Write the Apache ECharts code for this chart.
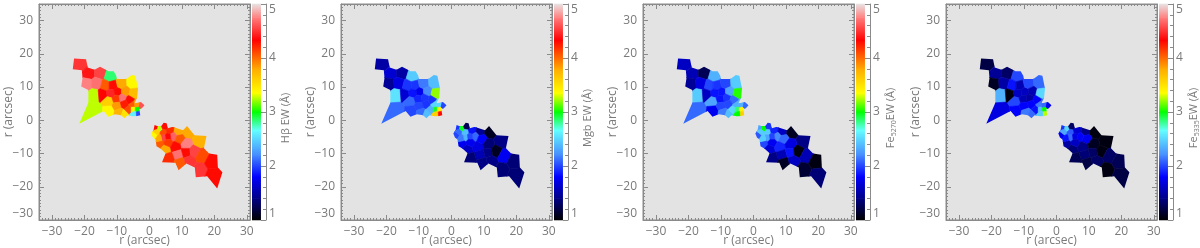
<!DOCTYPE html>
<html>
<head>
<meta charset="utf-8">
<style>
html,body{margin:0;padding:0;background:#fff}
#chart{width:1200px;height:248px;filter:blur(0.6px)}
</style>
<script src="https://cdn.jsdelivr.net/npm/echarts@6/dist/echarts.min.js"></script>
</head>
<body>
<div id="chart"></div>
<script>
// Voronoi bin centres on the sky, in arcsec (shared by all four maps)
const upperSites = [
[-21.2,16.9],[-18.6,14.1],[-15.2,14.2],[-19.2,11.0],[-16.2,11.1],[-12.0,13.2],[-16.9,7.6],[-16.6,3.2],
[-13.5,10.4],[-11.3,10.4],[-14.4,7.8],[-11.8,8.1],[-9.7,8.5],[-8.6,11.0],[-5.3,11.2],[-7.5,8.5],
[-4.9,7.9],[-12.5,5.7],[-12.3,2.9],[-10.1,6.5],[-8.3,6.8],[-6.0,6.0],[-9.9,4.3],[-7.6,4.9],
[-9.3,2.4],[-7.7,1.8],[-6.2,3.3],[-5.1,4.6],[-5.0,3.3],[-3.7,3.3],[-4.6,1.9],[-3.4,2.0],[-2.5,4.5],[-4.0,4.8]
];
const lowerSites = [
[1.9,-2.2],[3.2,-2.5],[4.6,-1.9],[1.5,-4.5],[2.3,-3.4],[4.3,-3.6],[4.4,-5.2],[3.3,-7.0],
[3.0,-5.5],[4.9,-8.6],[6.4,-3.1],[8.8,-3.4],[11.8,-3.6],[15.2,-6.3],[7.3,-4.8],[5.7,-5.0],
[9.2,-5.6],[5.7,-6.6],[8.2,-8.0],[11.4,-7.3],[8.9,-10.3],[5.8,-11.4],[9.6,-12.7],[11.4,-9.6],
[13.7,-9.4],[12.3,-12.2],[16.2,-10.8],[15.5,-14.8],[19.2,-12.4],[19.7,-16.6]
];
// outlines of the two lobes, in arcsec
const upperOutline = [[-23.2,18.6],[-19.5,18.4],[-19,15.9],[-16.9,15.2],[-15.2,16.1],[-13.4,15.2],[-12.6,14.8],[-11,14.8],[-10.2,13.4],[-10,12.4],[-7.1,12.4],[-5.4,13.6],[-4.3,13.4],[-3.5,9.5],[-3.8,6.8],[-4.6,5.1],[-3.6,5.3],[-2.6,5.5],[-1.5,4.5],[-2.3,3.6],[-3.1,3.3],[-2.8,1.5],[-3.8,1.3],[-5.1,1.2],[-6.7,1.5],[-7.7,0.6],[-8.7,1.5],[-10.7,1.8],[-12.6,1.1],[-14.1,2.8],[-21.6,-1],[-18.8,5.3],[-18.8,9.1],[-21,10.2],[-20.6,12.7],[-20.8,15.1],[-23.6,15.4]];
const lowerOutline = [[1.6,-1.4],[2.4,-1.7],[3.7,-1.7],[4.4,-0.7],[5.3,-0.9],[5.7,-2.4],[7,-2],[7.3,-2],[10.4,-3],[11.6,-1.7],[13.9,-4.5],[17.6,-4.7],[16.8,-8.4],[18.4,-10],[20.9,-10.4],[21.1,-14.2],[22.5,-15.6],[20.9,-20.5],[17.8,-16.8],[14.3,-17.1],[14,-14.2],[11.4,-13],[9,-15],[8,-12.8],[3.9,-12.6],[5,-9.9],[3.4,-8.5],[2.2,-7.8],[1.9,-5.8],[1.1,-5.2],[0.6,-4],[1.3,-2.9]];

// equivalent width of each bin: upper-lobe bins, then lower-lobe bins
const hbetaEW = [4.5,4.4,4.55,4.75,4.7,2.85,3.26,3.26,4.05,4.3,4.32,4.45,4.3,3.8,3.38,3.85,3.7,3.6,3.38,4.15,4.7,4.3,3.85,4.25,3.75,3.5,4.1,4.05,3.38,3.0,2.6,2.0,4.6,3.85,
 4.3,3.26,4.3,3.38,3.6,4.1,4.55,4.05,3.8,3.8,4.2,3.8,3.8,3.75,4.65,4.35,4.05,4.15,4.3,4.75,4.7,4.2,4.05,4.3,4.55,4.5,4.1,4.5,4.3,4.3];
const mgbEW = [1.5,1.65,1.5,1.45,1.7,2.45,2.55,2.1,1.95,1.95,1.65,1.85,1.75,2.15,2.4,2.2,3.2,2.1,2.0,1.9,1.95,1.95,2.0,1.95,2.1,2.4,2.35,2.5,2.95,3.4,3.6,4.3,2.0,2.5,
 1.95,2.95,1.25,2.0,2.1,2.4,2.35,1.75,2.15,1.6,1.85,1.45,1.1,1.4,2.1,2.0,1.8,1.75,1.7,1.35,1.55,1.35,1.4,1.4,1.1,1.4,1.75,1.35,1.35,1.35];
const fe5270EW = [1.6,1.55,1.25,1.45,1.7,2.35,2.45,2.1,2.0,1.95,1.6,1.85,1.85,2.0,2.45,2.3,3.05,2.3,1.75,1.85,1.95,2.1,2.0,2.0,2.15,2.4,2.5,2.35,2.85,3.4,3.0,3.6,2.1,2.35,
 2.3,3.0,1.95,2.05,2.45,2.45,2.3,2.0,2.45,1.65,1.9,1.6,1.1,1.4,2.2,2.0,2.1,1.75,1.9,1.7,1.55,1.4,1.1,1.85,1.05,1.6,1.55,1.15,1.05,1.35];
const fe5335EW = [1.2,1.45,1.3,1.1,1.5,2.0,2.35,1.7,1.85,1.55,1.05,1.6,1.6,2.0,2.1,1.55,2.5,2.0,1.8,1.55,1.5,1.8,1.8,1.8,2.15,2.1,1.85,2.15,2.4,3.0,2.45,3.25,1.75,2.1,
 1.95,2.5,1.3,1.75,2.3,2.05,2.1,1.5,1.85,1.35,1.65,1.4,1.05,1.05,1.8,1.7,1.75,1.6,1.4,1.1,1.35,1.25,1.2,1.3,1.05,1.3,1.3,1.05,1.25,1.2];

const panelValues = [hbetaEW, mgbEW, fe5270EW, fe5335EW];
const panelNames = ['H\u03b2 EW (\u00c5)', 'Mgb EW (\u00c5)', 'Fe{sub|5270}EW (\u00c5)', 'Fe{sub|5335}EW (\u00c5)'];

// colour table: [EW, colour]
const colorStops = [
 [1.0,[0,0,0]],[1.4,[0,0,135]],[1.8,[0,0,255]],[2.2,[70,140,255]],[2.66,[100,255,255]],
 [3.0,[0,255,0]],[3.35,[255,255,0]],[3.8,[255,170,0]],[4.33,[255,0,0]],[4.75,[255,128,128]],[5.0,[232,228,228]]
];
const xTickLabels = [-30,-20,-10,0,10,20,30];
const yTickLabels = [-30,-20,-10,0,10,20,30];
const barTickLabels = [1,2,3,4,5];

function ewColor(v){
  for(let i=1;i<colorStops.length;i++){
    const a=colorStops[i-1],b=colorStops[i];
    if(v<=b[0]){
      const t=Math.max(0,(v-a[0])/(b[0]-a[0]));
      return 'rgb('+a[1].map((c,k)=>Math.round(c+(b[1][k]-c)*t)).join(',')+')';
    }
  }
  return 'rgb('+colorStops[colorStops.length-1][1].join(',')+')';
}
const rgb=c=>'rgb('+c.join(',')+')';

// Voronoi cell of a site: a wide box cut along the bisector with each other site of its lobe
function voronoiCell(sites,i){
  let poly=[[-40,-40],[40,-40],[40,40],[-40,40]];
  const s=sites[i];
  sites.forEach((o,j)=>{
    if(j===i)return;
    const mx=(s[0]+o[0])/2,my=(s[1]+o[1])/2,nx=o[0]-s[0],ny=o[1]-s[1];
    const side=p=>(p[0]-mx)*nx+(p[1]-my)*ny;
    const out=[];
    poly.forEach((p,k)=>{
      const q=poly[(k+1)%poly.length],a=side(p),b=side(q);
      if(a<=0)out.push(p);
      if((a<0&&b>0)||(a>0&&b<0)){const t=a/(a-b);out.push([p[0]+(q[0]-p[0])*t,p[1]+(q[1]-p[1])*t]);}
    });
    poly=out;
  });
  return poly;
}
const cells=[];
upperSites.forEach((s,i)=>cells.push({site:s,poly:voronoiCell(upperSites,i),outline:upperOutline}));
lowerSites.forEach((s,i)=>cells.push({site:s,poly:voronoiCell(lowerSites,i),outline:lowerOutline}));

const INK='#7a7a7a', FRAME='#8a8a8a', FONT='"Open Sans","DejaVu Sans",sans-serif';
const plotLefts=[39,341,643,946], plotW=211, plotTop=4, plotH=216, barGap=213, barW=14;
const X=[-34,31], Y=[-30,35];
const minus=v=>String(v).replace('-','\u2212');

const grid=[],xAxis=[],yAxis=[],series=[];
const label={color:INK,fontSize:12,fontFamily:FONT};
const line={show:true,onZero:false,lineStyle:{color:FRAME,width:1}};

function tickAxis(list,g,pos,range,major,labelled,extra){
  list.push({type:'value',gridIndex:g,position:pos,min:range[0],max:range[1],interval:1,silent:true,
    splitLine:{show:false},axisLine:line,axisLabel:{show:false},
    axisTick:{show:true,inside:true,length:2,lineStyle:{color:FRAME,width:1}}});
  const a={type:'value',gridIndex:g,position:pos,min:range[0],max:range[1],interval:1,silent:true,
    splitLine:{show:false},axisLine:{show:false,onZero:false},
    axisTick:{show:true,inside:true,length:5,customValues:major,lineStyle:{color:FRAME,width:1}},
    axisLabel:labelled?Object.assign({show:true,customValues:major,formatter:minus,margin:6,showMinLabel:true,showMaxLabel:true,hideOverlap:false},label):{show:false}};
  Object.assign(a,extra||{});
  list.push(a);
  return list.length-1;
}

plotLefts.forEach((left,p)=>{
  const g=grid.length;
  grid.push({left:left,top:plotTop,width:plotW,height:plotH,outerBoundsMode:'none',show:true,backgroundColor:'#e3e3e3',borderColor:FRAME,borderWidth:1});
  const xi=tickAxis(xAxis,g,'bottom',X,xTickLabels,true,{name:'r (arcsec)',nameLocation:'middle',nameGap:15,nameMoveOverlap:false,nameTextStyle:label});
  tickAxis(xAxis,g,'top',X,xTickLabels,false);
  const yi=tickAxis(yAxis,g,'left',Y,yTickLabels,true,{name:'r (arcsec)',nameLocation:'middle',nameGap:24,nameMoveOverlap:false,nameRotate:90,nameTextStyle:label});
  tickAxis(yAxis,g,'right',Y,yTickLabels,false);
  yAxis[yi].axisLabel.verticalAlignMinLabel='bottom';
  const vals=panelValues[p];
  series.push({type:'custom',xAxisIndex:xi,yAxisIndex:yi,coordinateSystem:'cartesian2d',silent:true,animation:false,clip:true,
    data:cells.map((c,i)=>[c.site[0],c.site[1],vals[i],i]),
    renderItem:(params,api)=>{
      const c=cells[api.value(3)], col=ewColor(api.value(2));
      return {type:'polygon',shape:{points:c.poly.map(q=>api.coord(q))},style:{fill:col,stroke:col,lineWidth:0.6},
        clipPath:{type:'polygon',shape:{points:c.outline.map(q=>api.coord(q))}}};
    }});

  const gb=grid.length;
  grid.push({left:left+barGap,top:plotTop,width:barW,height:plotH,outerBoundsMode:'none',show:false});
  xAxis.push({type:'value',gridIndex:gb,min:0,max:1,show:false});
  const bx=xAxis.length-1;
  yAxis.push({type:'value',gridIndex:gb,position:'right',min:1,max:5,interval:0.2,silent:true,splitLine:{show:false},
    axisLine:line,axisLabel:{show:false},axisTick:{show:true,inside:true,length:3,lineStyle:{color:FRAME,width:1}}});
  yAxis.push({type:'value',gridIndex:gb,position:'right',min:1,max:5,interval:1,silent:true,splitLine:{show:false},
    axisLine:{show:false,onZero:false},
    axisTick:{show:true,inside:true,length:5,lineStyle:{color:FRAME,width:1}},
    axisLabel:Object.assign({show:true,margin:3,showMinLabel:true,showMaxLabel:true,verticalAlignMinLabel:'bottom',verticalAlignMaxLabel:'top',formatter:v=>barTickLabels.includes(v)?String(v):''},label),
    name:panelNames[p],nameLocation:'middle',nameGap:14,nameMoveOverlap:false,nameRotate:90,
    nameTextStyle:Object.assign({},label,{fontSize:11,padding:[0,12,0,0],rich:{sub:{fontSize:7,color:INK,fontFamily:FONT,padding:[6,0,0,0]}}})});
  const by=yAxis.length-1;
  series.push({type:'custom',xAxisIndex:bx,yAxisIndex:by,coordinateSystem:'cartesian2d',silent:true,animation:false,
    data:colorStops.slice(1).map((s,i)=>[colorStops[i][0],s[0],i]),
    renderItem:(params,api)=>{
      const i=api.value(2);
      const a=api.coord([0,api.value(0)]), b=api.coord([0.64,api.value(1)]);
      return {type:'rect',shape:{x:a[0],y:b[1]-0.3,width:b[0]-a[0],height:a[1]-b[1]+0.6},
        style:{fill:new echarts.graphic.LinearGradient(0,1,0,0,[{offset:0,color:rgb(colorStops[i][1])},{offset:1,color:rgb(colorStops[i+1][1])}])}};
    }});
});

const chart=echarts.init(document.getElementById('chart'),null,{renderer:'canvas',width:1200,height:248});
chart.setOption({animation:false,backgroundColor:'#fff',grid,xAxis,yAxis,series});
</script>
</body>
</html>
